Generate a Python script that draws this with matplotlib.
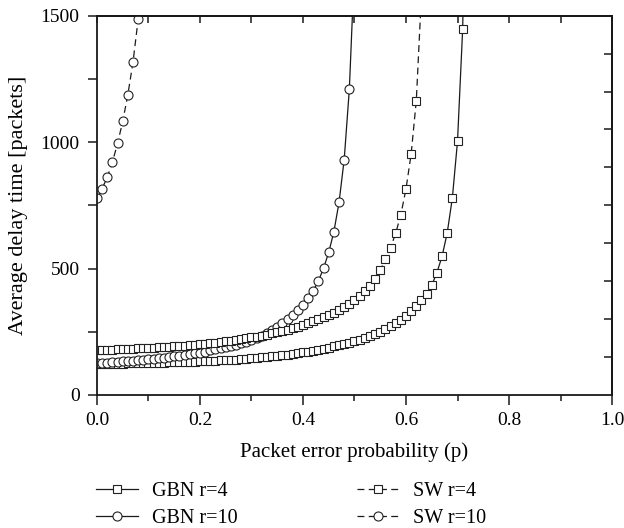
import numpy as np
import matplotlib
matplotlib.use('Agg')
import matplotlib.pyplot as plt
from matplotlib.ticker import MultipleLocator, NullFormatter

plt.rcParams['font.family'] = ['Liberation Serif', 'DejaVu Serif']
plt.rcParams['font.size'] = 14

# values, one point every 0.01 of p
gbn4 = [122, 122, 123, 123, 124, 124, 125, 125, 126, 126,
        127, 127, 128, 128, 129, 129, 130, 131, 131, 132,
        133, 134, 135, 136, 137, 138, 139, 140, 142, 143,
        145, 147, 149, 151, 153, 155, 158, 160, 163, 166,
        169, 172, 175, 179, 183, 187, 192, 197, 202, 207,
        213, 219, 226, 233, 241, 250, 260, 271, 284, 298,
        314, 331, 352, 374, 400, 434, 484, 548, 641, 779,
        1003, 1446, 2500]
gbn10 = [126, 127, 128, 130, 131, 133, 134, 136, 138, 140,
         142, 144, 146, 148, 151, 153, 156, 159, 162, 165,
         168, 172, 176, 180, 184, 189, 194, 199, 205, 211,
         218, 226, 235, 245, 256, 269, 283, 299, 316, 335,
         356, 382, 413, 451, 502, 564, 646, 762, 931, 1209,
         1700]
sw4 = [176, 177, 178, 179, 180, 181, 182, 183, 184, 185,
       186, 187, 188, 190, 191, 192, 194, 195, 197, 199,
       201, 203, 205, 207, 210, 212, 215, 218, 221, 224,
       228, 231, 235, 239, 244, 248, 253, 258, 264, 270,
       277, 284, 291, 299, 307, 316, 326, 337, 348, 361,
       377, 392, 410, 432, 460, 494, 536, 582, 640, 713,
       815, 953, 1164, 1584]
sw10 = [779, 816, 861, 921, 995, 1082, 1188, 1317, 1486]

labels = ['GBN r=4', 'GBN r=10', 'SW r=4', 'SW r=10']


def pgrid(vals):
    return np.arange(len(vals)) / 100.0


fig = plt.figure(figsize=(6.24, 5.28), dpi=100)
ax = fig.add_axes([0.1554, 0.2519, 0.8254, 0.7184])

lc = '#1a1a1a'
dash = (0, (5.5, 3.5))
common = dict(color=lc, lw=0.9, mfc='white', mec='#222222', mew=0.8)
ax.plot(pgrid(gbn4), gbn4, '-', marker='s', ms=5.5, label=labels[0], **common)
ax.plot(pgrid(gbn10), gbn10, '-', marker='o', ms=6.5, label=labels[1], **common)
ax.plot(pgrid(sw4), sw4, linestyle=dash, marker='s', ms=5.5, label=labels[2], **common)
ax.plot(pgrid(sw10), sw10, linestyle=dash, marker='o', ms=6.5, label=labels[3], **common)

ax.set_xlim(0, 1.0)
ax.set_ylim(0, 1500)
ax.set_xticks([0.0, 0.2, 0.4, 0.6, 0.8, 1.0])
ax.set_xticklabels(['0.0', '0.2', '0.4', '0.6', '0.8', '1.0'])
ax.set_yticks([0, 500, 1000, 1500])
ax.xaxis.set_minor_locator(MultipleLocator(0.1))
ax.yaxis.set_minor_locator(MultipleLocator(250))
ax.tick_params(axis='x', which='major', direction='out', length=7, width=1.1, color=lc, pad=5)
ax.tick_params(axis='x', which='minor', direction='out', length=4.3, width=1.1, color=lc)
ax.tick_params(axis='y', which='both', direction='out', length=6.5, width=1.1, color=lc, pad=6)
for s in ax.spines.values():
    s.set_linewidth(1.3)
    s.set_color(lc)

# top and right ticks point inward and sit on their own grids
top = ax.secondary_xaxis('top')
top.set_xticks(np.arange(0, 1.01, 0.1))
top.xaxis.set_major_formatter(NullFormatter())
top.tick_params(direction='in', length=5, width=1.1, color=lc)
top.spines['top'].set_linewidth(1.3)
right = ax.secondary_yaxis('right')
right.set_yticks(np.arange(150, 1500, 150))
right.yaxis.set_major_formatter(NullFormatter())
right.tick_params(direction='in', length=6, width=1.1, color=lc)
right.spines['right'].set_linewidth(1.3)

ax.set_xlabel('Packet error probability (p)', fontsize=15, labelpad=10)
ax.set_ylabel('Average delay time [packets]', fontsize=16, labelpad=9)

fig.legend(loc='upper left', bbox_to_anchor=(0.154, 0.088), ncol=2, frameon=False,
           fontsize=14.5, handlelength=2.1, handletextpad=0.7, columnspacing=5.9,
           labelspacing=0.4, borderpad=0, borderaxespad=0)

fig.savefig('out.png', dpi=100)
